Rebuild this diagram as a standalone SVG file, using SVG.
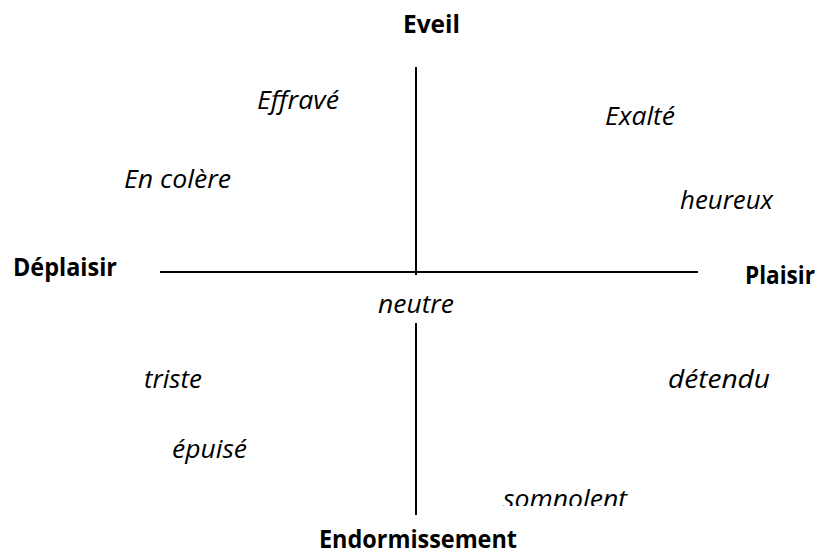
<svg xmlns="http://www.w3.org/2000/svg" width="822" height="558" viewBox="0 0 822 558">
<style>
text{font-family:"Open Sans","Noto Sans","Liberation Sans",sans-serif;font-size:25px;fill:#000}
.b{font-weight:bold}
.i{font-style:italic}
.ax{stroke:#000;stroke-width:2;fill:none}
</style>
<defs>
<clipPath id="clipBottom"><rect x="0" y="0" width="822" height="506"/></clipPath>
</defs>
<rect width="822" height="558" fill="#fff"/>
<g id="connectors">
<line class="ax" x1="416" y1="67" x2="416" y2="275"/>
<line class="ax" x1="160" y1="272" x2="698" y2="272"/>
<line class="ax" x1="416" y1="323" x2="416" y2="515"/>
</g>
<g id="eveil"><text class="b" x="403" y="33" textLength="57" lengthAdjust="spacingAndGlyphs">Eveil</text></g>
<g id="deplaisir"><text class="b" x="13" y="276" textLength="104" lengthAdjust="spacingAndGlyphs">Déplaisir</text></g>
<g id="plaisir"><text class="b" x="745" y="284" textLength="70" lengthAdjust="spacingAndGlyphs">Plaisir</text></g>
<g id="endormissement"><text class="b" x="319" y="548" textLength="198" lengthAdjust="spacingAndGlyphs">Endormissement</text></g>
<g id="effrave"><text class="i" x="257" y="109" textLength="82" lengthAdjust="spacingAndGlyphs">Effravé</text></g>
<g id="encolere"><text class="i" x="124" y="188" textLength="107" lengthAdjust="spacingAndGlyphs">En colère</text></g>
<g id="exalte"><text class="i" x="605" y="125" textLength="70" lengthAdjust="spacingAndGlyphs">Exalté</text></g>
<g id="heureux"><text class="i" x="680" y="209" textLength="93" lengthAdjust="spacingAndGlyphs">heureux</text></g>
<g id="neutre"><text class="i" x="378" y="313" textLength="76" lengthAdjust="spacingAndGlyphs">neutre</text></g>
<g id="triste"><text class="i" x="144" y="388" textLength="58" lengthAdjust="spacingAndGlyphs">triste</text></g>
<g id="epuise"><text class="i" x="172" y="458" textLength="75" lengthAdjust="spacingAndGlyphs">épuisé</text></g>
<g id="detendu"><text class="i" x="668" y="388" textLength="102" lengthAdjust="spacingAndGlyphs">détendu</text></g>
<g id="somnolent" clip-path="url(#clipBottom)"><text class="i" x="503" y="508" textLength="124" lengthAdjust="spacingAndGlyphs">somnolent</text></g>
</svg>
